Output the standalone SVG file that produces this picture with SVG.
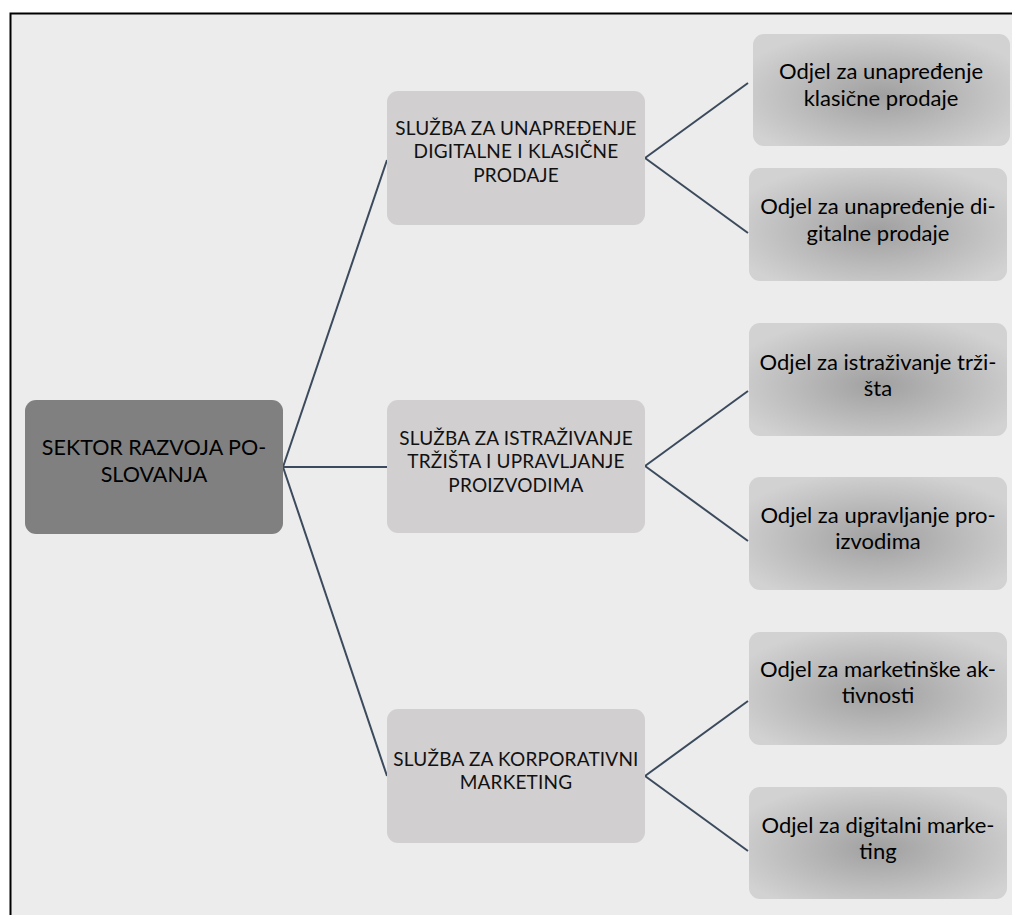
<svg xmlns="http://www.w3.org/2000/svg" width="1012" height="915" viewBox="0 0 1012 915">
  <defs>
    <radialGradient id="leafGrad" cx="0.5" cy="0.55" r="0.6">
      <stop offset="0" stop-color="#a0a0a0"/>
      <stop offset="1" stop-color="#d2d2d2"/>
    </radialGradient>
    <style>
      .frame { fill: #ececec; stroke: #000; stroke-width: 2; }
      .root { fill: #808080; }
      .mid { fill: #d1cfd0; }
      .leaf { fill: url(#leafGrad); }
      .conn { stroke: #3b4a5c; stroke-width: 2; fill: none; }
      text { font-family: Lato, "Open Sans", "Liberation Sans", sans-serif; fill: #111; text-anchor: middle; }
      .tr { font-size: 21.5px; fill: #000; }
      .tm { font-size: 19px; letter-spacing: 0.2px; }
      .tl { font-size: 22px; fill: #000; }
    </style>
  </defs>
  <rect x="0" y="0" width="1012" height="915" fill="#fff"/>
  <rect class="frame" x="10.5" y="13.5" width="1010" height="910"/>

  <g id="connectors">
    <line class="conn" x1="283" y1="467" x2="387" y2="160"/>
    <line class="conn" x1="283" y1="467" x2="387" y2="467"/>
    <line class="conn" x1="283" y1="467" x2="387" y2="776"/>
    <line class="conn" x1="645" y1="158" x2="748" y2="83"/>
    <line class="conn" x1="645" y1="158" x2="748" y2="233"/>
    <line class="conn" x1="645" y1="466" x2="748" y2="391"/>
    <line class="conn" x1="645" y1="466" x2="748" y2="541"/>
    <line class="conn" x1="645" y1="776" x2="748" y2="701"/>
    <line class="conn" x1="645" y1="776" x2="748" y2="851"/>
  </g>

  <g id="root">
    <rect class="root" x="25" y="400" width="258" height="134" rx="11"/>
    <text class="tr" x="154" y="455">SEKTOR RAZVOJA PO-</text>
    <text class="tr" x="154" y="482">SLOVANJA</text>
  </g>

  <g id="mid1">
    <rect class="mid" x="387" y="91" width="258" height="134" rx="11"/>
    <text class="tm" x="516" y="135">SLUŽBA ZA UNAPREĐENJE</text>
    <text class="tm" x="516" y="158">DIGITALNE I KLASIČNE</text>
    <text class="tm" x="516" y="182">PRODAJE</text>
  </g>

  <g id="mid2">
    <rect class="mid" x="387" y="400" width="258" height="133" rx="11"/>
    <text class="tm" x="516" y="445">SLUŽBA ZA ISTRAŽIVANJE</text>
    <text class="tm" x="516" y="468">TRŽIŠTA I UPRAVLJANJE</text>
    <text class="tm" x="516" y="492">PROIZVODIMA</text>
  </g>

  <g id="mid3">
    <rect class="mid" x="387" y="709" width="258" height="134" rx="11"/>
    <text class="tm" x="516" y="766">SLUŽBA ZA KORPORATIVNI</text>
    <text class="tm" x="516" y="789">MARKETING</text>
  </g>

  <g id="leaf1">
    <rect class="leaf" x="753" y="34" width="257" height="112" rx="11"/>
    <text class="tl" x="881" y="79">Odjel za unapređenje</text>
    <text class="tl" x="881" y="106">klasične prodaje</text>
  </g>

  <g id="leaf2">
    <rect class="leaf" x="749" y="168" width="258" height="113" rx="11"/>
    <text class="tl" x="878" y="214">Odjel za unapređenje di-</text>
    <text class="tl" x="878" y="241">gitalne prodaje</text>
  </g>

  <g id="leaf3">
    <rect class="leaf" x="749" y="323" width="258" height="113" rx="11"/>
    <text class="tl" x="878" y="370">Odjel za istraživanje trži-</text>
    <text class="tl" x="878" y="396">šta</text>
  </g>

  <g id="leaf4">
    <rect class="leaf" x="749" y="477" width="258" height="113" rx="11"/>
    <text class="tl" x="878" y="523">Odjel za upravljanje pro-</text>
    <text class="tl" x="878" y="549">izvodima</text>
  </g>

  <g id="leaf5">
    <rect class="leaf" x="749" y="632" width="258" height="113" rx="11"/>
    <text class="tl" x="878" y="677">Odjel za marketinške ak-</text>
    <text class="tl" x="878" y="703">tivnosti</text>
  </g>

  <g id="leaf6">
    <rect class="leaf" x="749" y="787" width="258" height="112" rx="11"/>
    <text class="tl" x="878" y="833">Odjel za digitalni marke-</text>
    <text class="tl" x="878" y="859">ting</text>
  </g>
</svg>
